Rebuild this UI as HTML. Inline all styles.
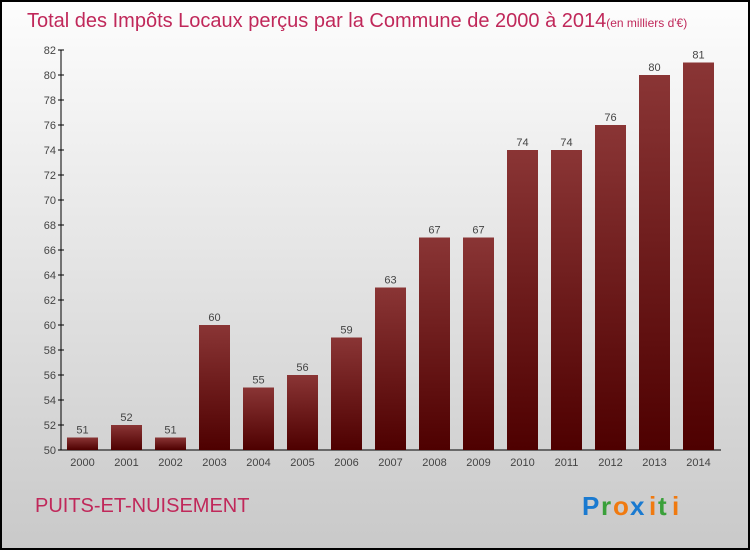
<!DOCTYPE html>
<html><head><meta charset="utf-8"><style>
body{margin:0;width:750px;height:550px;overflow:hidden;font-family:"Liberation Sans",sans-serif}
</style></head><body>
<svg width="750" height="550" xmlns="http://www.w3.org/2000/svg">
<defs>
<linearGradient id="bg" x1="0" y1="0" x2="0" y2="1"><stop offset="0" stop-color="#fdfdfd"/><stop offset="1" stop-color="#c9c9c9"/></linearGradient>
<linearGradient id="bar" x1="0" y1="0" x2="0" y2="1"><stop offset="0" stop-color="#8a3535"/><stop offset="1" stop-color="#4e0000"/></linearGradient>
</defs>
<rect x="1" y="1" width="748" height="548" fill="url(#bg)" stroke="#000" stroke-width="2"/>
<text x="27" y="27" font-size="20" fill="#c0285a">Total des Impôts Locaux perçus par la Commune de 2000 à 2014<tspan font-size="12">(en milliers d'€)</tspan></text>
<g id="axes"></g>
<g id="bars"></g>
<text x="35" y="512" font-size="20" fill="#c0285a">PUITS-ET-NUISEMENT</text>
<g font-size="26" font-weight="bold">
<text x="582" y="515" fill="#1a7ad0">P</text><text x="601" y="515" fill="#3aa03a">r</text><text x="613" y="515" fill="#f07a10">o</text><text x="630" y="515" fill="#1a7ad0">x</text><text x="649" y="515" fill="#f07a10">i</text><text x="658" y="515" fill="#3aa03a">t</text><text x="672" y="515" fill="#f07a10">i</text>
</g>
</svg>
<script>
const years=["2000","2001","2002","2003","2004","2005","2006","2007","2008","2009","2010","2011","2012","2013","2014"];
const values=[51,52,51,60,55,56,59,63,67,67,74,74,76,80,81];
const yTicks=[50,52,54,56,58,60,62,64,66,68,70,72,74,76,78,80,82];
const NS="http://www.w3.org/2000/svg";
const yMin=50,yMax=82,plotTop=50,plotBot=450;
const y=v=>plotBot-(v-yMin)/(yMax-yMin)*(plotBot-plotTop);
const x=i=>67+i*44;
const ax=document.getElementById('axes'),bg=document.getElementById('bars');
function mk(tag,attrs,parent,txt){const e=document.createElementNS(NS,tag);for(const k in attrs)e.setAttribute(k,attrs[k]);if(txt!==undefined)e.textContent=txt;parent.appendChild(e);return e;}
let l=mk('line',{x1:61,y1:plotTop,x2:61,y2:plotBot,stroke:'#000'},ax);


l=mk('line',{x1:61,y1:plotBot,x2:721,y2:plotBot,stroke:'#000'},ax);


yTicks.forEach(t=>{
 mk('line',{x1:58,y1:y(t),x2:64,y2:y(t),stroke:'#000'},ax);
 const tx=mk('text',{x:56,y:y(t)+4,'font-size':11,'text-anchor':'end',fill:'#444'},ax,t);
 
 
});
years.forEach((yr,i)=>{
 const v=values[i];
 const r=mk('rect',{x:x(i),y:y(v),width:31,height:plotBot-y(v),fill:'url(#bar)'},bg);
 
 
 const vl=mk('text',{x:x(i)+15.5,y:y(v)-4,'font-size':11,'text-anchor':'middle',fill:'#444'},bg,v);
 
 
 const xl=mk('text',{x:x(i)+15.5,y:466,'font-size':11,'text-anchor':'middle',fill:'#444'},ax,yr);
 
 
});
</script>
</body></html>
